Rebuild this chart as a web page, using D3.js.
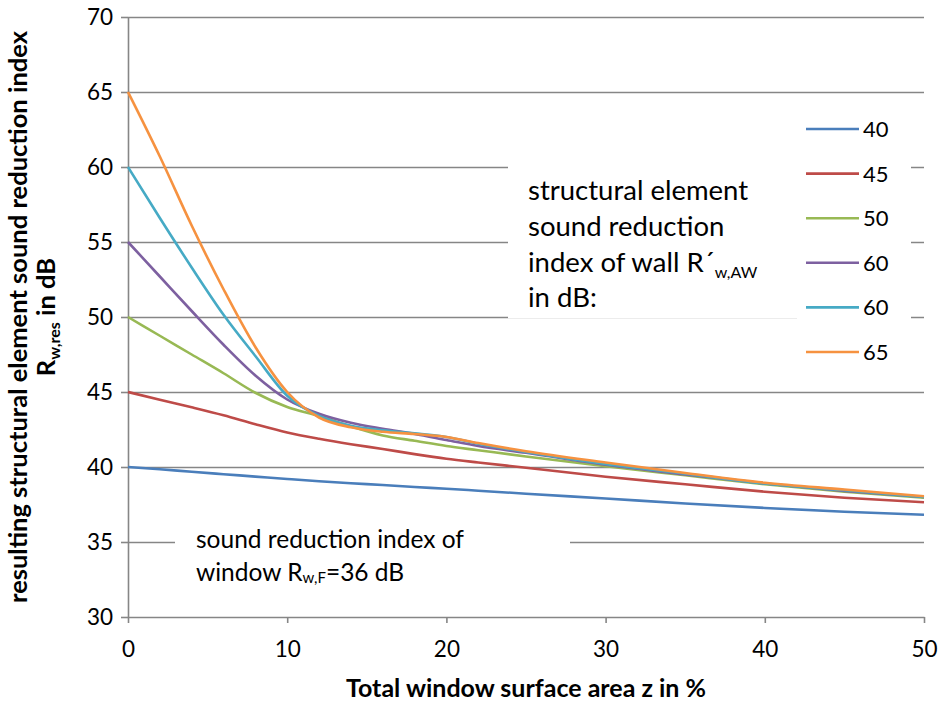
<!DOCTYPE html>
<html><head><meta charset="utf-8">
<script src="https://cdn.jsdelivr.net/npm/d3@7"></script>
<style>
body{margin:0;background:#fff}
svg{display:block}
text{font-family:Lato,"Open Sans",sans-serif;fill:#000}
</style>
</head><body>
<svg id="chart" width="939" height="704"></svg>
<script>
// ---- data ----
const zValues = [0,2,4,6,8,10,12,14,16,18,20,22,25,30,35,40,45,50];
const seriesLabels = ["40","45","50","60","60","65"];
const r40 = [40,39.85,39.68,39.52,39.36,39.2,39.05,38.92,38.8,38.67,38.55,38.42,38.22,37.9,37.57,37.27,37.02,36.82];
const r45 = [45,44.48,43.98,43.45,42.85,42.3,41.88,41.52,41.2,40.86,40.55,40.3,39.95,39.35,38.85,38.35,37.95,37.65];
const r50 = [50,48.75,47.5,46.25,44.95,44.0,43.4,42.7,42.1,41.75,41.4,41.12,40.7,40.05,39.45,38.85,38.35,37.95];
const r55 = [55,52.7,50.4,48.15,46.1,44.5,43.55,42.95,42.55,42.2,41.8,41.4,40.95,40.15,39.5,38.9,38.4,38.0];
const r60 = [60,56.6,53.3,50.15,47.4,44.75,43.4,42.75,42.45,42.25,42.0,41.55,41.0,40.2,39.55,38.9,38.45,38.0];
const r65 = [65,60.7,56.1,51.85,48.0,45.0,43.3,42.65,42.35,42.2,42.0,41.6,41.05,40.3,39.6,38.95,38.5,38.05];
const yTicks = [30,35,40,45,50,55,60,65,70];
const xTicks = [0,10,20,30,40,50];
const seriesColors = ["#4A7EBB","#BE4B48","#98B954","#7D60A0","#46AAC5","#F69240"];

const allSeries = [r40,r45,r50,r55,r60,r65].map((vals,i)=>({
  label: seriesLabels[i], color: seriesColors[i],
  pts: zValues.map((z,j)=>({z, v: vals[j]}))
}));

// ---- layout ----
const svg = d3.select("#chart");
const L = 128, R = 924, T = 17, B = 617;
const x = d3.scaleLinear().domain([0,50]).range([L,R]);
const y = d3.scaleLinear().domain([30,70]).range([B,T]);
const gridColor = "#868686";

// gridlines
const grid = svg.append("g").attr("transform",`translate(${L},0)`)
  .call(d3.axisLeft(y).tickValues(yTicks.filter(t=>t>30)).tickSize(-(R-L)).tickFormat(""));
grid.select(".domain").remove();
grid.selectAll("line").attr("stroke",gridColor).attr("stroke-width",1.6);

// white boxes hiding gridlines under annotations / legend
svg.append("rect").attr("x",508).attr("y",140).attr("width",289).attr("height",178).attr("fill","#fff");
svg.append("line").attr("x1",508).attr("x2",797).attr("y1",318.5).attr("y2",318.5).attr("stroke","#ececec").attr("stroke-width",1);
svg.append("rect").attr("x",797).attr("y",108).attr("width",114).attr("height",268).attr("fill","#fff");
svg.append("rect").attr("x",175).attr("y",518).attr("width",395).attr("height",82).attr("fill","#fff");

// axes
const yAxis = svg.append("g").attr("transform",`translate(${L},0)`)
  .call(d3.axisLeft(y).tickValues(yTicks).tickSize(7).tickPadding(8).tickSizeOuter(0));
const xAxis = svg.append("g").attr("transform",`translate(0,${B})`)
  .call(d3.axisBottom(x).tickValues(xTicks).tickSize(6).tickPadding(18).tickSizeOuter(0));
[yAxis,xAxis].forEach(a=>{
  a.select(".domain").attr("stroke",gridColor).attr("stroke-width",1.6);
  a.selectAll(".tick line").attr("stroke",gridColor).attr("stroke-width",1.6);
  a.selectAll(".tick text").attr("font-size",22.5).attr("font-family","Lato").attr("fill","#000");
});

// curves
const line = d3.line().x(d=>x(d.z)).y(d=>y(d.v)).curve(d3.curveMonotoneX);
svg.append("g").selectAll("path").data(allSeries).join("path")
  .attr("d",d=>line(d.pts)).attr("fill","none")
  .attr("stroke",d=>d.color).attr("stroke-width",2.6).attr("stroke-linejoin","round");

// legend
const lg = svg.append("g");
allSeries.forEach((s,i)=>{
  const yy = 129 + i*44.6;
  lg.append("line").attr("x1",806).attr("x2",859).attr("y1",yy).attr("y2",yy)
    .attr("stroke",s.color).attr("stroke-width",2.6);
  lg.append("text").attr("x",863).attr("y",yy).attr("dy","0.36em")
    .attr("font-size",22).text(s.label);
});

// annotation: wall
const a1 = svg.append("g").attr("font-size",27.5);
a1.append("text").attr("x",528).attr("y",200).text("structural element");
a1.append("text").attr("x",528).attr("y",236).text("sound reduction");
const t3 = a1.append("text").attr("x",528).attr("y",272);
t3.append("tspan").text("index of wall R\u00B4");
t3.append("tspan").attr("font-size",16).attr("dy",6).text("w,AW");
a1.append("text").attr("x",528).attr("y",307).text("in dB:");

// annotation: window
const a2 = svg.append("g").attr("font-size",24.5);
a2.append("text").attr("x",196).attr("y",548).text("sound reduction index of");
const w2 = a2.append("text").attr("x",196).attr("y",581);
w2.append("tspan").text("window R");
w2.append("tspan").attr("font-size",15).attr("dy",2).text("w,F");
w2.append("tspan").attr("dy",-2).text("=36 dB");

// axis titles
svg.append("text").attr("x",(L+R)/2).attr("y",697).attr("text-anchor","middle")
  .attr("font-size",25).attr("font-weight","bold").text("Total window surface area z in %");

svg.append("text").attr("transform",`translate(27,317) rotate(-90)`).attr("text-anchor","middle")
  .attr("font-size",25.5).attr("font-weight","bold").text("resulting structural element sound reduction index");
const yt2 = svg.append("text").attr("transform",`translate(55,317) rotate(-90)`).attr("text-anchor","middle")
  .attr("font-size",25.5).attr("font-weight","bold");
yt2.append("tspan").text("R");
yt2.append("tspan").attr("font-size",16).attr("dy",5).text("w,res");
yt2.append("tspan").attr("dy",-5).text(" in dB");
</script>
</body></html>
